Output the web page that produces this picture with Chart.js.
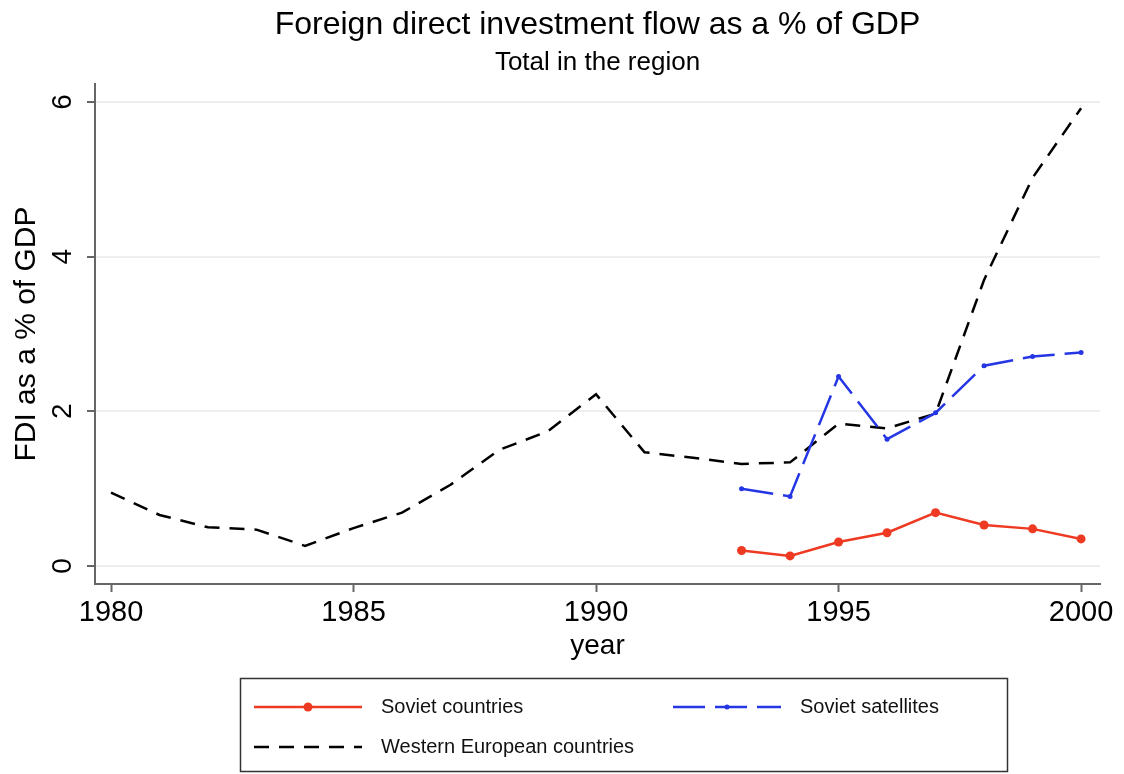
<!DOCTYPE html>
<html>
<head>
<meta charset="utf-8">
<title>FDI flow as a % of GDP</title>
<script src="https://cdn.jsdelivr.net/npm/chart.js@4.4.1/dist/chart.umd.min.js"></script>
<style>
  html, body { margin: 0; padding: 0; background: #fff; }
  #chart { display: block; }
</style>
</head>
<body>
<canvas id="chart" width="1124" height="774"></canvas>
<script>
// FDI inflows as a share of GDP, regional totals
var years = [1980, 1981, 1982, 1983, 1984, 1985, 1986, 1987, 1988, 1989, 1990,
             1991, 1992, 1993, 1994, 1995, 1996, 1997, 1998, 1999, 2000];
var transitionYears = [1993, 1994, 1995, 1996, 1997, 1998, 1999, 2000];

var sovietCountries = [0.20, 0.13, 0.31, 0.43, 0.69, 0.53, 0.48, 0.35];
var sovietSatellites = [1.00, 0.90, 2.45, 1.64, 1.98, 2.59, 2.71, 2.76];
var westernEurope = [0.95, 0.66, 0.50, 0.47, 0.26, 0.49, 0.69, 1.05, 1.50, 1.74, 2.22,
                     1.47, 1.40, 1.32, 1.34, 1.84, 1.78, 1.97, 3.70, 5.02, 5.92];

var xTicks = [1980, 1985, 1990, 1995, 2000];
var yTicks = [0, 2, 4, 6];

var titleText = 'Foreign direct investment flow as a % of GDP';
var subtitleText = 'Total in the region';

var FONT = "'Liberation Sans', Arial, Helvetica, sans-serif";
var AXIS = '#666666';

function toPoints(xs, ys) {
    return ys.map(function (v, i) { return { x: xs[i], y: v }; });
}

// titles are centred over the plot region rather than the whole canvas
var plotTitles = {
    id: 'plotTitles',
    afterDraw: function (chart) {
        var ctx = chart.ctx;
        var cx = (chart.chartArea.left + chart.chartArea.right) / 2;
        ctx.save();
        ctx.fillStyle = '#000';
        ctx.textAlign = 'center';
        ctx.textBaseline = 'middle';
        ctx.font = '32px ' + FONT;
        ctx.fillText(titleText, cx, 25);
        ctx.font = '26px ' + FONT;
        ctx.fillText(subtitleText, cx, 63);
        ctx.restore();
    }
};

// y tick labels are drawn turned on their side
var rotatedYLabels = {
    id: 'rotatedYLabels',
    afterDraw: function (chart) {
        var ctx = chart.ctx;
        var y = chart.scales.y;
        ctx.save();
        ctx.fillStyle = '#000';
        ctx.font = '28px ' + FONT;
        ctx.textAlign = 'center';
        ctx.textBaseline = 'middle';
        yTicks.forEach(function (t) {
            ctx.save();
            ctx.translate(63, y.getPixelForValue(t));
            ctx.rotate(-Math.PI / 2);
            ctx.fillText(String(t), 0, 0);
            ctx.restore();
        });
        ctx.restore();
    }
};

// boxed legend under the plot, two columns
var boxLegend = {
    id: 'boxLegend',
    afterDraw: function (chart) {
        var ctx = chart.ctx;
        var sets = chart.data.datasets;
        var slots = [
            { x: 254, y: 707 },
            { x: 673, y: 707 },
            { x: 254, y: 747 }
        ];
        ctx.save();
        ctx.strokeStyle = '#333';
        ctx.lineWidth = 1.5;
        ctx.strokeRect(240.5, 678.5, 767, 93);

        sets.forEach(function (ds, i) {
            var s = slots[i];
            ctx.save();
            ctx.strokeStyle = ds.borderColor;
            ctx.lineWidth = ds.borderWidth;
            ctx.setLineDash(ds.borderDash || []);
            ctx.beginPath();
            ctx.moveTo(s.x, s.y);
            ctx.lineTo(s.x + 108, s.y);
            ctx.stroke();
            if (ds.pointRadius > 0) {
                ctx.fillStyle = ds.borderColor;
                ctx.beginPath();
                ctx.arc(s.x + 54, s.y, ds.pointRadius, 0, Math.PI * 2);
                ctx.fill();
            }
            ctx.restore();

            ctx.fillStyle = '#111';
            ctx.font = '20px ' + FONT;
            ctx.textAlign = 'left';
            ctx.textBaseline = 'middle';
            ctx.fillText(ds.label, s.x + 127, s.y);
        });
        ctx.restore();
    }
};

new Chart(document.getElementById('chart'), {
    type: 'line',
    data: {
        datasets: [
            {
                label: 'Soviet countries',
                data: toPoints(transitionYears, sovietCountries),
                borderColor: '#ee3a22',
                backgroundColor: '#ee3a22',
                borderWidth: 2.5,
                pointRadius: 4.5,
                pointBorderWidth: 0,
                fill: false,
                tension: 0
            },
            {
                label: 'Soviet satellites',
                data: toPoints(transitionYears, sovietSatellites),
                borderColor: '#2536e4',
                backgroundColor: '#2536e4',
                borderWidth: 2.5,
                borderDash: [32, 10],
                pointRadius: 2.5,
                pointBorderWidth: 0,
                fill: false,
                tension: 0
            },
            {
                label: 'Western European countries',
                data: toPoints(years, westernEurope),
                borderColor: '#000000',
                borderWidth: 2.5,
                borderDash: [15, 10],
                pointRadius: 0,
                fill: false,
                tension: 0
            }
        ]
    },
    options: {
        responsive: false,
        animation: false,
        devicePixelRatio: 1,
        layout: { padding: { left: 5, right: 24, top: 84, bottom: 96 } },
        plugins: {
            legend: { display: false },
            tooltip: { enabled: false }
        },
        scales: {
            x: {
                type: 'linear',
                min: 1979.67,
                max: 2000.39,
                afterBuildTicks: function (scale) {
                    scale.ticks = xTicks.map(function (v) { return { value: v }; });
                },
                afterFit: function (scale) { scale.height = 94; },
                ticks: {
                    color: '#000',
                    font: { family: FONT, size: 29 },
                    padding: 4,
                    maxRotation: 0,
                    callback: function (v) { return String(v); }
                },
                grid: {
                    drawOnChartArea: false,
                    drawTicks: true,
                    tickLength: 8,
                    tickColor: AXIS,
                    tickWidth: 2
                },
                border: { color: AXIS, width: 2 },
                title: {
                    display: true,
                    text: 'year',
                    color: '#000',
                    font: { family: FONT, size: 28 },
                    padding: { top: 0, bottom: 15 }
                }
            },
            y: {
                type: 'linear',
                min: -0.233,
                max: 6.233,
                afterBuildTicks: function (scale) {
                    scale.ticks = yTicks.map(function (v) { return { value: v }; });
                },
                afterFit: function (scale) { scale.width = 90; },
                ticks: { display: false },
                grid: {
                    color: '#eeeeee',
                    lineWidth: 2,
                    drawTicks: true,
                    tickLength: 8,
                    tickColor: AXIS,
                    tickWidth: 2
                },
                border: { color: AXIS, width: 2 },
                title: {
                    display: true,
                    text: 'FDI as a % of GDP',
                    color: '#000',
                    font: { family: FONT, size: 30 },
                    padding: { top: 4, bottom: 0 }
                }
            }
        }
    },
    plugins: [plotTitles, rotatedYLabels, boxLegend]
});
</script>
</body>
</html>
